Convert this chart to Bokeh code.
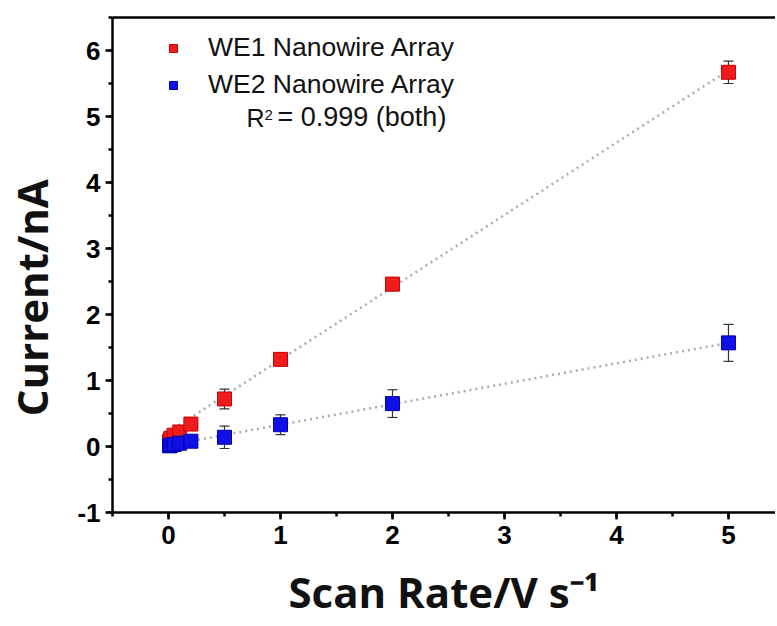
from bokeh.plotting import figure
from bokeh.models import (ColumnDataSource, Whisker, TeeHead, Label, Legend, LegendItem,
                          SingleIntervalTicker, LinearAxis, FixedTicker, PrintfTickFormatter)
from bokeh.embed import file_html
from bokeh.resources import INLINE

# ---- data ----
scan_rate = [0.01, 0.02, 0.05, 0.1, 0.2, 0.5, 1, 2, 5]
we1_current = [0.08, 0.12, 0.17, 0.22, 0.34, 0.72, 1.32, 2.46, 5.67]
we1_error = [0.15, 0.08, 0.06, 0.05, 0.05, 0.15, 0.05, 0.10, 0.17]
we2_current = [0.01, 0.02, 0.03, 0.05, 0.08, 0.14, 0.33, 0.65, 1.57]
we2_error = [0.05, 0.04, 0.03, 0.03, 0.03, 0.17, 0.15, 0.21, 0.28]

fit_x = [0, 5]
we1_fit = [0.22, 5.70]
we2_fit = [0.02, 1.57]

RED = "#ee1c1c"
BLUE = "#1010e6"
TXT = "#111111"

p = figure(width=775, height=624, x_range=(-0.5, 5.42), y_range=(-1, 6.5),
           output_backend="svg", toolbar_location=None,
           min_border_left=112, min_border_right=0, min_border_top=17, min_border_bottom=112)
p.outline_line_color = None
p.xgrid.visible = False
p.ygrid.visible = False

for ax in (p.xaxis[0], p.yaxis[0]):
    ax.ticker = SingleIntervalTicker(interval=1, num_minor_ticks=2)
    ax.formatter = PrintfTickFormatter(format="%d")
    ax.axis_line_width = 2.5
    ax.axis_line_color = "black"
    ax.major_tick_line_width = 2.5
    ax.minor_tick_line_width = 2.5
    ax.major_tick_line_color = "black"
    ax.minor_tick_line_color = "black"
    ax.major_tick_in = 0
    ax.major_tick_out = 7
    ax.minor_tick_in = 0
    ax.minor_tick_out = 4
    ax.major_label_text_font = "Liberation Sans"
    ax.major_label_text_font_style = "bold"
    ax.major_label_text_font_size = "26px"
    ax.major_label_text_color = "black"
    ax.axis_label_text_font = "Open Sans"
    ax.axis_label_text_font_style = "bold"
    ax.axis_label_text_font_size = "42px"
    ax.axis_label_text_color = TXT
p.xaxis.major_label_standoff = 6
p.yaxis.major_label_standoff = 5
p.xaxis.axis_label = "Scan Rate/V s\u207b\u00b9"
p.yaxis.axis_label = "Current/nA" + "\u00a0" * 6
p.xaxis.axis_label_standoff = 16
p.yaxis.axis_label_standoff = 14

top_axis = LinearAxis(ticker=FixedTicker(ticks=[]), axis_line_width=2.5, axis_line_color="black",
                      major_tick_line_color=None, minor_tick_line_color=None,
                      major_label_text_font_size="0px")
p.add_layout(top_axis, "above")

# fit lines
p.line(fit_x, we1_fit, line_color="#ababab", line_width=2.5, line_dash="2 4")
p.line(fit_x, we2_fit, line_color="#ababab", line_width=2.5, line_dash="2 4")

src1 = ColumnDataSource(dict(x=scan_rate, y=we1_current,
                             lo=[v - e for v, e in zip(we1_current, we1_error)],
                             hi=[v + e for v, e in zip(we1_current, we1_error)]))
src2 = ColumnDataSource(dict(x=scan_rate, y=we2_current,
                             lo=[v - e for v, e in zip(we2_current, we2_error)],
                             hi=[v + e for v, e in zip(we2_current, we2_error)]))

for src in (src1, src2):
    w = Whisker(source=src, base="x", upper="hi", lower="lo", line_color="#333333", line_width=1.2,
                upper_head=TeeHead(size=10, line_color="#333333", line_width=1.2),
                lower_head=TeeHead(size=10, line_color="#333333", line_width=1.2))
    p.add_layout(w)

r1 = p.scatter("x", "y", source=src1, marker="square", size=14, fill_color=RED, line_color="#cc0000")
r2 = p.scatter("x", "y", source=src2, marker="square", size=14, fill_color=BLUE, line_color="#0000aa")

legend = Legend(items=[LegendItem(label="WE1 Nanowire Array", renderers=[r1]),
                       LegendItem(label="WE2 Nanowire Array", renderers=[r2])],
                location=(51, 412), padding=0, margin=0, spacing=6,
                glyph_width=20, glyph_height=20, label_height=20, label_standoff=25,
                border_line_color=None, background_fill_alpha=0,
                label_text_font="Liberation Sans", label_text_font_size="26.5px",
                label_text_color=TXT)
p.add_layout(legend)

p.add_layout(Label(x=134, y=381, x_units="screen", y_units="screen", text="R",
                   text_font="Liberation Sans", text_font_size="25px", text_color=TXT))
p.add_layout(Label(x=152, y=393, x_units="screen", y_units="screen", text="2",
                   text_font="Liberation Sans", text_font_size="15px", text_color=TXT))
p.add_layout(Label(x=165, y=381, x_units="screen", y_units="screen", text="= 0.999 (both)",
                   text_font="Liberation Sans", text_font_size="27px", text_color=TXT))

open("out.html", "w").write(file_html(p, INLINE))
